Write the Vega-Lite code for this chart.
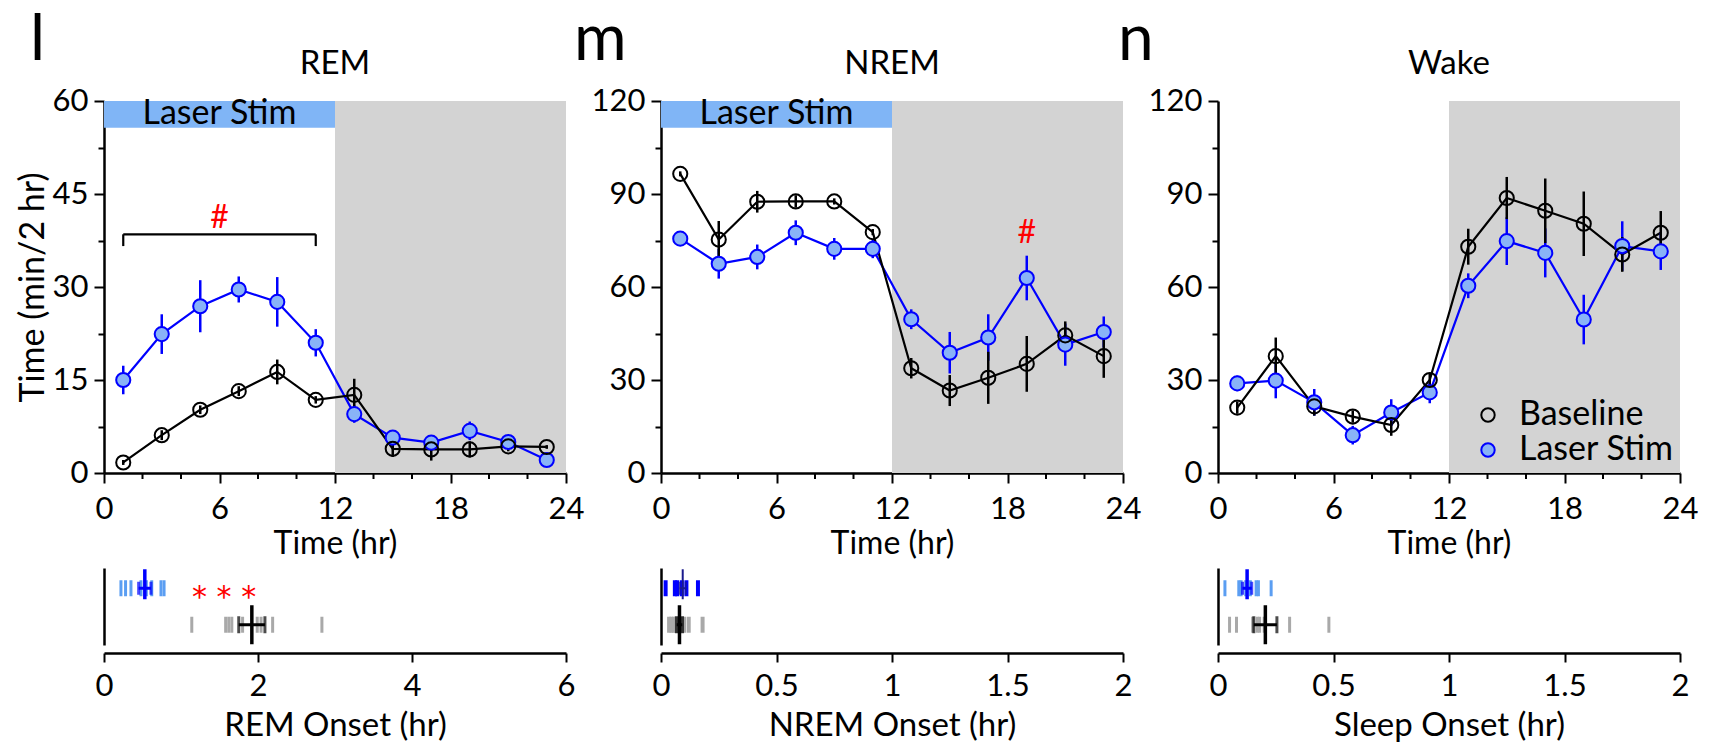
{
 "$schema": "https://vega.github.io/schema/vega-lite/v6.json",
 "background": "white",
 "padding": {"left": 16, "top": 9, "right": 5, "bottom": 5},
 "config": {
  "font": "Lato",
  "view": {"stroke": null},
  "axis": {"domainColor": "black", "domainWidth": 2.5, "tickColor": "black", "tickWidth": 2, "labelColor": "black", "titleColor": "black", "labelFont": "Lato", "titleFont": "Lato", "labelFontSize": 31, "titleFontSize": 32, "titleFontWeight": "normal", "grid": false, "labelPadding": 6, "labelFlush": false},
  "legend": {"labelFont": "Lato", "labelFontSize": 34, "labelColor": "black", "symbolSize": 180, "symbolStrokeWidth": 2, "rowPadding": 1, "labelOffset": 14, "padding": 0}
 },
 "datasets": {
  "series": [
   {"state": "REM", "group": "Laser Stim", "hr": 1, "mean": 15.0, "err": 2.3},
   {"state": "REM", "group": "Laser Stim", "hr": 3, "mean": 22.4, "err": 3.2},
   {"state": "REM", "group": "Laser Stim", "hr": 5, "mean": 26.9, "err": 4.2},
   {"state": "REM", "group": "Laser Stim", "hr": 7, "mean": 29.6, "err": 2.1},
   {"state": "REM", "group": "Laser Stim", "hr": 9, "mean": 27.6, "err": 4.0},
   {"state": "REM", "group": "Laser Stim", "hr": 11, "mean": 21.0, "err": 2.2},
   {"state": "REM", "group": "Laser Stim", "hr": 13, "mean": 9.5, "err": 1.4},
   {"state": "REM", "group": "Laser Stim", "hr": 15, "mean": 5.7, "err": 0.8},
   {"state": "REM", "group": "Laser Stim", "hr": 17, "mean": 4.9, "err": 1.0},
   {"state": "REM", "group": "Laser Stim", "hr": 19, "mean": 6.8, "err": 1.5},
   {"state": "REM", "group": "Laser Stim", "hr": 21, "mean": 5.0, "err": 0.7},
   {"state": "REM", "group": "Laser Stim", "hr": 23, "mean": 2.1, "err": 0.5},
   {"state": "REM", "group": "Baseline", "hr": 1, "mean": 1.7, "err": 0.4},
   {"state": "REM", "group": "Baseline", "hr": 3, "mean": 6.1, "err": 0.8},
   {"state": "REM", "group": "Baseline", "hr": 5, "mean": 10.2, "err": 0.7},
   {"state": "REM", "group": "Baseline", "hr": 7, "mean": 13.2, "err": 0.8},
   {"state": "REM", "group": "Baseline", "hr": 9, "mean": 16.3, "err": 2.0},
   {"state": "REM", "group": "Baseline", "hr": 11, "mean": 11.8, "err": 0.6},
   {"state": "REM", "group": "Baseline", "hr": 13, "mean": 12.6, "err": 2.6},
   {"state": "REM", "group": "Baseline", "hr": 15, "mean": 3.9, "err": 1.3},
   {"state": "REM", "group": "Baseline", "hr": 17, "mean": 3.8, "err": 1.8},
   {"state": "REM", "group": "Baseline", "hr": 19, "mean": 3.8, "err": 1.3},
   {"state": "REM", "group": "Baseline", "hr": 21, "mean": 4.3, "err": 0.8},
   {"state": "REM", "group": "Baseline", "hr": 23, "mean": 4.2, "err": 0.3},
   {"state": "NREM", "group": "Laser Stim", "hr": 1, "mean": 75.6, "err": 1.5},
   {"state": "NREM", "group": "Laser Stim", "hr": 3, "mean": 67.5, "err": 4.8},
   {"state": "NREM", "group": "Laser Stim", "hr": 5, "mean": 69.7, "err": 4.0},
   {"state": "NREM", "group": "Laser Stim", "hr": 7, "mean": 77.5, "err": 4.0},
   {"state": "NREM", "group": "Laser Stim", "hr": 9, "mean": 72.3, "err": 3.5},
   {"state": "NREM", "group": "Laser Stim", "hr": 11, "mean": 72.3, "err": 3.0},
   {"state": "NREM", "group": "Laser Stim", "hr": 13, "mean": 49.6, "err": 3.2},
   {"state": "NREM", "group": "Laser Stim", "hr": 15, "mean": 38.8, "err": 6.7},
   {"state": "NREM", "group": "Laser Stim", "hr": 17, "mean": 43.7, "err": 7.5},
   {"state": "NREM", "group": "Laser Stim", "hr": 19, "mean": 62.9, "err": 7.2},
   {"state": "NREM", "group": "Laser Stim", "hr": 21, "mean": 41.4, "err": 6.8},
   {"state": "NREM", "group": "Laser Stim", "hr": 23, "mean": 45.5, "err": 5.0},
   {"state": "NREM", "group": "Baseline", "hr": 1, "mean": 96.5, "err": 0.8},
   {"state": "NREM", "group": "Baseline", "hr": 3, "mean": 75.3, "err": 6.0},
   {"state": "NREM", "group": "Baseline", "hr": 5, "mean": 87.5, "err": 3.5},
   {"state": "NREM", "group": "Baseline", "hr": 7, "mean": 87.6, "err": 2.0},
   {"state": "NREM", "group": "Baseline", "hr": 9, "mean": 87.6, "err": 1.0},
   {"state": "NREM", "group": "Baseline", "hr": 11, "mean": 77.7, "err": 1.0},
   {"state": "NREM", "group": "Baseline", "hr": 13, "mean": 33.8, "err": 3.3},
   {"state": "NREM", "group": "Baseline", "hr": 15, "mean": 26.6, "err": 5.0},
   {"state": "NREM", "group": "Baseline", "hr": 17, "mean": 30.7, "err": 8.4},
   {"state": "NREM", "group": "Baseline", "hr": 19, "mean": 35.2, "err": 9.0},
   {"state": "NREM", "group": "Baseline", "hr": 21, "mean": 44.4, "err": 4.5},
   {"state": "NREM", "group": "Baseline", "hr": 23, "mean": 37.7, "err": 7.0},
   {"state": "Wake", "group": "Laser Stim", "hr": 1, "mean": 28.9, "err": 2.5},
   {"state": "Wake", "group": "Laser Stim", "hr": 3, "mean": 29.8, "err": 5.7},
   {"state": "Wake", "group": "Laser Stim", "hr": 5, "mean": 22.8, "err": 4.3},
   {"state": "Wake", "group": "Laser Stim", "hr": 7, "mean": 12.2, "err": 3.0},
   {"state": "Wake", "group": "Laser Stim", "hr": 9, "mean": 19.5, "err": 4.3},
   {"state": "Wake", "group": "Laser Stim", "hr": 11, "mean": 26.0, "err": 3.5},
   {"state": "Wake", "group": "Laser Stim", "hr": 13, "mean": 60.4, "err": 4.0},
   {"state": "Wake", "group": "Laser Stim", "hr": 15, "mean": 74.8, "err": 7.7},
   {"state": "Wake", "group": "Laser Stim", "hr": 17, "mean": 71.0, "err": 7.9},
   {"state": "Wake", "group": "Laser Stim", "hr": 19, "mean": 49.5, "err": 8.0},
   {"state": "Wake", "group": "Laser Stim", "hr": 21, "mean": 73.2, "err": 8.0},
   {"state": "Wake", "group": "Laser Stim", "hr": 23, "mean": 71.5, "err": 6.0},
   {"state": "Wake", "group": "Baseline", "hr": 1, "mean": 21.1, "err": 2.0},
   {"state": "Wake", "group": "Baseline", "hr": 3, "mean": 37.7, "err": 6.0},
   {"state": "Wake", "group": "Baseline", "hr": 5, "mean": 21.5, "err": 3.0},
   {"state": "Wake", "group": "Baseline", "hr": 7, "mean": 18.2, "err": 2.0},
   {"state": "Wake", "group": "Baseline", "hr": 9, "mean": 15.5, "err": 3.5},
   {"state": "Wake", "group": "Baseline", "hr": 11, "mean": 30.0, "err": 2.0},
   {"state": "Wake", "group": "Baseline", "hr": 13, "mean": 73.0, "err": 5.8},
   {"state": "Wake", "group": "Baseline", "hr": 15, "mean": 88.7, "err": 6.8},
   {"state": "Wake", "group": "Baseline", "hr": 17, "mean": 84.6, "err": 10.4},
   {"state": "Wake", "group": "Baseline", "hr": 19, "mean": 80.4, "err": 10.4},
   {"state": "Wake", "group": "Baseline", "hr": 21, "mean": 70.5, "err": 5.6},
   {"state": "Wake", "group": "Baseline", "hr": 23, "mean": 77.5, "err": 7.0}
  ],
  "shade": [{"period": "dark", "start": 12, "end": 24}],
  "stim": [{"label": "Laser Stim", "start": 0, "end": 12}],
  "bracket": [{"from": 1, "to": 11}],
  "minor_hr": [{"hr": 2}, {"hr": 4}, {"hr": 8}, {"hr": 10}, {"hr": 14}, {"hr": 16}, {"hr": 20}, {"hr": 22}],
  "heads": [{"panel": "REM", "letter": "l", "name": "REM"}, {"panel": "NREM", "letter": "m", "name": "NREM"}, {"panel": "Wake", "letter": "n", "name": "Wake"}],
  "sig": [{"label": "#"}],
  "stars": [{"label": "* * *"}],
  "onset": [
   {"state": "REM", "group": "Laser Stim", "onset": 0.22},
   {"state": "REM", "group": "Laser Stim", "onset": 0.28},
   {"state": "REM", "group": "Laser Stim", "onset": 0.35},
   {"state": "REM", "group": "Laser Stim", "onset": 0.48},
   {"state": "REM", "group": "Laser Stim", "onset": 0.55},
   {"state": "REM", "group": "Laser Stim", "onset": 0.62},
   {"state": "REM", "group": "Laser Stim", "onset": 0.74},
   {"state": "REM", "group": "Laser Stim", "onset": 0.78},
   {"state": "REM", "group": "Baseline", "onset": 1.14},
   {"state": "REM", "group": "Baseline", "onset": 1.58},
   {"state": "REM", "group": "Baseline", "onset": 1.62},
   {"state": "REM", "group": "Baseline", "onset": 1.66},
   {"state": "REM", "group": "Baseline", "onset": 1.80},
   {"state": "REM", "group": "Baseline", "onset": 1.99},
   {"state": "REM", "group": "Baseline", "onset": 2.04},
   {"state": "REM", "group": "Baseline", "onset": 2.19},
   {"state": "REM", "group": "Baseline", "onset": 2.83},
   {"state": "NREM", "group": "Laser Stim", "onset": 0.02},
   {"state": "NREM", "group": "Laser Stim", "onset": 0.06},
   {"state": "NREM", "group": "Laser Stim", "onset": 0.07},
   {"state": "NREM", "group": "Laser Stim", "onset": 0.09},
   {"state": "NREM", "group": "Laser Stim", "onset": 0.11},
   {"state": "NREM", "group": "Laser Stim", "onset": 0.16},
   {"state": "NREM", "group": "Baseline", "onset": 0.035},
   {"state": "NREM", "group": "Baseline", "onset": 0.045},
   {"state": "NREM", "group": "Baseline", "onset": 0.055},
   {"state": "NREM", "group": "Baseline", "onset": 0.065},
   {"state": "NREM", "group": "Baseline", "onset": 0.075},
   {"state": "NREM", "group": "Baseline", "onset": 0.09},
   {"state": "NREM", "group": "Baseline", "onset": 0.10},
   {"state": "NREM", "group": "Baseline", "onset": 0.12},
   {"state": "NREM", "group": "Baseline", "onset": 0.18},
   {"state": "Sleep", "group": "Laser Stim", "onset": 0.03},
   {"state": "Sleep", "group": "Laser Stim", "onset": 0.09},
   {"state": "Sleep", "group": "Laser Stim", "onset": 0.10},
   {"state": "Sleep", "group": "Laser Stim", "onset": 0.12},
   {"state": "Sleep", "group": "Laser Stim", "onset": 0.14},
   {"state": "Sleep", "group": "Laser Stim", "onset": 0.165},
   {"state": "Sleep", "group": "Laser Stim", "onset": 0.175},
   {"state": "Sleep", "group": "Laser Stim", "onset": 0.23},
   {"state": "Sleep", "group": "Baseline", "onset": 0.05},
   {"state": "Sleep", "group": "Baseline", "onset": 0.08},
   {"state": "Sleep", "group": "Baseline", "onset": 0.15},
   {"state": "Sleep", "group": "Baseline", "onset": 0.17},
   {"state": "Sleep", "group": "Baseline", "onset": 0.18},
   {"state": "Sleep", "group": "Baseline", "onset": 0.20},
   {"state": "Sleep", "group": "Baseline", "onset": 0.31},
   {"state": "Sleep", "group": "Baseline", "onset": 0.48}
  ],
  "onset_stat": [
   {"state": "REM", "group": "Laser Stim", "mean": 0.53, "sem": 0.08},
   {"state": "REM", "group": "Baseline", "mean": 1.92, "sem": 0.17},
   {"state": "NREM", "group": "Laser Stim", "mean": 0.094, "sem": 0.013},
   {"state": "NREM", "group": "Baseline", "mean": 0.08, "sem": 0.012},
   {"state": "Sleep", "group": "Laser Stim", "mean": 0.126, "sem": 0.02},
   {"state": "Sleep", "group": "Baseline", "mean": 0.205, "sem": 0.05}
  ]
 },
 "columns": 3,
 "spacing": {"row": 95, "column": 95},
 "bounds": "flush",
 "resolve": {"scale": {"fill": "independent", "stroke": "independent"}, "legend": {"fill": "independent", "stroke": "independent"}},
 "concat": [
  {
   "width": 462, "height": 372,
   "layer": [
    {"data": {"name": "shade"}, "mark": {"type": "rect", "color": "#d3d3d3"},
     "encoding": {
      "x": {"field": "start", "type": "quantitative", "title": "Time (hr)", "scale": {"domain": [0, 24], "nice": false}, "axis": {"labelOverlap": false, "labelPadding": 11, "titlePadding": 4, "values": [0, 6, 12, 18, 24], "tickSize": 10}},
      "x2": {"field": "end"},
      "y": {"datum": 0, "type": "quantitative", "title": "Time (min/2 hr)", "scale": {"domain": [0, 60], "nice": false}, "axis": {"labelOverlap": false, "titleFontSize": 34, "titlePadding": 2, "values": [0,7.5,15,22.5,30,37.5,45,52.5,60], "labelExpr": "datum.value % 15 === 0 ? datum.label : ''", "tickSize": {"condition": {"test": "datum.value % 15 === 0", "value": 10}, "value": 6}}},
      "y2": {"datum": 60}
     }},
    {"data": {"name": "minor_hr"}, "mark": {"type": "tick", "orient": "vertical", "color": "black", "size": 6, "thickness": 2, "yOffset": 3, "opacity": 1},
     "encoding": {"x": {"field": "hr", "type": "quantitative", "title": "Time (hr)"}, "y": {"datum": 0, "type": "quantitative", "title": "Time (min/2 hr)"}}},
    {"data": {"name": "stim"}, "mark": {"type": "rect", "color": "#80b5f6"},
     "encoding": {"x": {"field": "start", "type": "quantitative", "title": "Time (hr)"}, "x2": {"field": "end"}, "y": {"datum": 55.7, "type": "quantitative", "title": "Time (min/2 hr)"}, "y2": {"datum": 60}}},
    {"data": {"name": "stim"}, "mark": {"type": "text", "fontSize": 34, "color": "black", "baseline": "middle"},
     "encoding": {"x": {"datum": 6, "type": "quantitative", "title": "Time (hr)"}, "y": {"datum": 57.85, "type": "quantitative", "title": "Time (min/2 hr)"}, "text": {"field": "label"}}},
    {"data": {"name": "heads"}, "transform": [{"filter": "datum.panel === 'REM'"}], "mark": {"type": "text", "fontSize": 64, "color": "black", "align": "left", "baseline": "alphabetic"},
     "encoding": {"x": {"datum": -3.84, "type": "quantitative", "title": "Time (hr)"}, "y": {"datum": 66.6, "type": "quantitative", "title": "Time (min/2 hr)"}, "text": {"field": "letter"}}},
    {"data": {"name": "heads"}, "transform": [{"filter": "datum.panel === 'REM'"}], "mark": {"type": "text", "fontSize": 33, "color": "black", "align": "center", "baseline": "alphabetic"},
     "encoding": {"x": {"datum": 12, "type": "quantitative", "title": "Time (hr)"}, "y": {"datum": 64.4, "type": "quantitative", "title": "Time (min/2 hr)"}, "text": {"field": "name"}}},
    {"data": {"name": "series"}, "transform": [{"filter": "datum.state === 'REM' && datum.group === 'Laser Stim'"}], "mark": {"type": "line", "color": "#0000ff", "strokeWidth": 2.2},
     "encoding": {"x": {"field": "hr", "type": "quantitative", "title": "Time (hr)"}, "y": {"field": "mean", "type": "quantitative", "title": "Time (min/2 hr)"}}},
    {"data": {"name": "series"}, "transform": [{"filter": "datum.state === 'REM' && datum.group === 'Baseline'"}], "mark": {"type": "line", "color": "black", "strokeWidth": 2.2},
     "encoding": {"x": {"field": "hr", "type": "quantitative", "title": "Time (hr)"}, "y": {"field": "mean", "type": "quantitative", "title": "Time (min/2 hr)"}}},
    {"data": {"name": "series"}, "transform": [{"filter": "datum.state === 'REM' && datum.group === 'Laser Stim'"}], "mark": {"type": "errorbar", "color": "#0000ff", "thickness": 2.5},
     "encoding": {"x": {"field": "hr", "type": "quantitative", "title": "Time (hr)"}, "y": {"field": "mean", "type": "quantitative", "title": "Time (min/2 hr)"}, "yError": {"field": "err"}}},
    {"data": {"name": "series"}, "transform": [{"filter": "datum.state === 'REM' && datum.group === 'Baseline'"}], "mark": {"type": "errorbar", "color": "black", "thickness": 2.5},
     "encoding": {"x": {"field": "hr", "type": "quantitative", "title": "Time (hr)"}, "y": {"field": "mean", "type": "quantitative", "title": "Time (min/2 hr)"}, "yError": {"field": "err"}}},
    {"data": {"name": "series"}, "transform": [{"filter": "datum.state === 'REM'"}], "mark": {"type": "circle", "size": 200, "strokeWidth": 2, "opacity": 1},
     "encoding": {"x": {"field": "hr", "type": "quantitative", "title": "Time (hr)"}, "y": {"field": "mean", "type": "quantitative", "title": "Time (min/2 hr)"},
      "fill": {"field": "group", "type": "nominal", "scale": {"domain": ["Baseline", "Laser Stim"], "range": ["transparent", "#89b3f7"]}, "legend": null},
      "stroke": {"field": "group", "type": "nominal", "scale": {"domain": ["Baseline", "Laser Stim"], "range": ["black", "#0000ff"]}, "legend": null}}},
    {"data": {"name": "bracket"}, "mark": {"type": "rule", "color": "black", "strokeWidth": 2.2},
     "encoding": {"x": {"field": "from", "type": "quantitative", "title": "Time (hr)"}, "x2": {"field": "to"}, "y": {"datum": 38.5, "type": "quantitative", "title": "Time (min/2 hr)"}}},
    {"data": {"name": "bracket"}, "mark": {"type": "rule", "color": "black", "strokeWidth": 2.2},
     "encoding": {"x": {"field": "from", "type": "quantitative", "title": "Time (hr)"}, "y": {"datum": 38.5, "type": "quantitative", "title": "Time (min/2 hr)"}, "y2": {"datum": 36.6}}},
    {"data": {"name": "bracket"}, "mark": {"type": "rule", "color": "black", "strokeWidth": 2.2},
     "encoding": {"x": {"field": "to", "type": "quantitative", "title": "Time (hr)"}, "y": {"datum": 38.5, "type": "quantitative", "title": "Time (min/2 hr)"}, "y2": {"datum": 36.6}}},
    {"data": {"name": "sig"}, "mark": {"type": "text", "fontSize": 32, "color": "#ff0000", "baseline": "middle"},
     "encoding": {"x": {"datum": 6, "type": "quantitative", "title": "Time (hr)"}, "y": {"datum": 41.2, "type": "quantitative", "title": "Time (min/2 hr)"}, "text": {"field": "label"}}}
   ]
  },
  {
   "width": 462, "height": 372,
   "layer": [
    {"data": {"name": "shade"}, "mark": {"type": "rect", "color": "#d3d3d3"},
     "encoding": {
      "x": {"field": "start", "type": "quantitative", "title": "Time (hr)", "scale": {"domain": [0, 24], "nice": false}, "axis": {"labelOverlap": false, "labelPadding": 11, "titlePadding": 4, "values": [0, 6, 12, 18, 24], "tickSize": 10}},
      "x2": {"field": "end"},
      "y": {"datum": 0, "type": "quantitative", "title": null, "scale": {"domain": [0, 120], "nice": false}, "axis": {"labelOverlap": false, "values": [0,15,30,45,60,75,90,105,120], "labelExpr": "datum.value % 30 === 0 ? datum.label : ''", "tickSize": {"condition": {"test": "datum.value % 30 === 0", "value": 10}, "value": 6}}},
      "y2": {"datum": 120}
     }},
    {"data": {"name": "minor_hr"}, "mark": {"type": "tick", "orient": "vertical", "color": "black", "size": 6, "thickness": 2, "yOffset": 3, "opacity": 1},
     "encoding": {"x": {"field": "hr", "type": "quantitative", "title": "Time (hr)"}, "y": {"datum": 0, "type": "quantitative", "title": null}}},
    {"data": {"name": "stim"}, "mark": {"type": "rect", "color": "#80b5f6"},
     "encoding": {"x": {"field": "start", "type": "quantitative", "title": "Time (hr)"}, "x2": {"field": "end"}, "y": {"datum": 111.4, "type": "quantitative", "title": null}, "y2": {"datum": 120}}},
    {"data": {"name": "stim"}, "mark": {"type": "text", "fontSize": 34, "color": "black", "baseline": "middle"},
     "encoding": {"x": {"datum": 6, "type": "quantitative", "title": "Time (hr)"}, "y": {"datum": 115.7, "type": "quantitative", "title": null}, "text": {"field": "label"}}},
    {"data": {"name": "heads"}, "transform": [{"filter": "datum.panel === 'NREM'"}], "mark": {"type": "text", "fontSize": 64, "color": "black", "align": "left", "baseline": "alphabetic"},
     "encoding": {"x": {"datum": -4.52, "type": "quantitative", "title": "Time (hr)"}, "y": {"datum": 133.2, "type": "quantitative", "title": null}, "text": {"field": "letter"}}},
    {"data": {"name": "heads"}, "transform": [{"filter": "datum.panel === 'NREM'"}], "mark": {"type": "text", "fontSize": 33, "color": "black", "align": "center", "baseline": "alphabetic"},
     "encoding": {"x": {"datum": 12, "type": "quantitative", "title": "Time (hr)"}, "y": {"datum": 128.8, "type": "quantitative", "title": null}, "text": {"field": "name"}}},
    {"data": {"name": "series"}, "transform": [{"filter": "datum.state === 'NREM' && datum.group === 'Laser Stim'"}], "mark": {"type": "line", "color": "#0000ff", "strokeWidth": 2.2},
     "encoding": {"x": {"field": "hr", "type": "quantitative", "title": "Time (hr)"}, "y": {"field": "mean", "type": "quantitative", "title": null}}},
    {"data": {"name": "series"}, "transform": [{"filter": "datum.state === 'NREM' && datum.group === 'Baseline'"}], "mark": {"type": "line", "color": "black", "strokeWidth": 2.2},
     "encoding": {"x": {"field": "hr", "type": "quantitative", "title": "Time (hr)"}, "y": {"field": "mean", "type": "quantitative", "title": null}}},
    {"data": {"name": "series"}, "transform": [{"filter": "datum.state === 'NREM' && datum.group === 'Laser Stim'"}], "mark": {"type": "errorbar", "color": "#0000ff", "thickness": 2.5},
     "encoding": {"x": {"field": "hr", "type": "quantitative", "title": "Time (hr)"}, "y": {"field": "mean", "type": "quantitative", "title": null}, "yError": {"field": "err"}}},
    {"data": {"name": "series"}, "transform": [{"filter": "datum.state === 'NREM' && datum.group === 'Baseline'"}], "mark": {"type": "errorbar", "color": "black", "thickness": 2.5},
     "encoding": {"x": {"field": "hr", "type": "quantitative", "title": "Time (hr)"}, "y": {"field": "mean", "type": "quantitative", "title": null}, "yError": {"field": "err"}}},
    {"data": {"name": "series"}, "transform": [{"filter": "datum.state === 'NREM'"}], "mark": {"type": "circle", "size": 200, "strokeWidth": 2, "opacity": 1},
     "encoding": {"x": {"field": "hr", "type": "quantitative", "title": "Time (hr)"}, "y": {"field": "mean", "type": "quantitative", "title": null},
      "fill": {"field": "group", "type": "nominal", "scale": {"domain": ["Baseline", "Laser Stim"], "range": ["transparent", "#89b3f7"]}, "legend": null},
      "stroke": {"field": "group", "type": "nominal", "scale": {"domain": ["Baseline", "Laser Stim"], "range": ["black", "#0000ff"]}, "legend": null}}},
    {"data": {"name": "sig"}, "mark": {"type": "text", "fontSize": 32, "color": "#ff0000", "baseline": "middle"},
     "encoding": {"x": {"datum": 19, "type": "quantitative", "title": "Time (hr)"}, "y": {"datum": 77.5, "type": "quantitative", "title": null}, "text": {"field": "label"}}}
   ]
  },
  {
   "width": 462, "height": 372,
   "layer": [
    {"data": {"name": "shade"}, "mark": {"type": "rect", "color": "#d3d3d3"},
     "encoding": {
      "x": {"field": "start", "type": "quantitative", "title": "Time (hr)", "scale": {"domain": [0, 24], "nice": false}, "axis": {"labelOverlap": false, "labelPadding": 11, "titlePadding": 4, "values": [0, 6, 12, 18, 24], "tickSize": 10}},
      "x2": {"field": "end"},
      "y": {"datum": 0, "type": "quantitative", "title": null, "scale": {"domain": [0, 120], "nice": false}, "axis": {"labelOverlap": false, "values": [0,15,30,45,60,75,90,105,120], "labelExpr": "datum.value % 30 === 0 ? datum.label : ''", "tickSize": {"condition": {"test": "datum.value % 30 === 0", "value": 10}, "value": 6}}},
      "y2": {"datum": 120}
     }},
    {"data": {"name": "minor_hr"}, "mark": {"type": "tick", "orient": "vertical", "color": "black", "size": 6, "thickness": 2, "yOffset": 3, "opacity": 1},
     "encoding": {"x": {"field": "hr", "type": "quantitative", "title": "Time (hr)"}, "y": {"datum": 0, "type": "quantitative", "title": null}}},
    {"data": {"name": "heads"}, "transform": [{"filter": "datum.panel === 'Wake'"}], "mark": {"type": "text", "fontSize": 64, "color": "black", "align": "left", "baseline": "alphabetic"},
     "encoding": {"x": {"datum": -5.19, "type": "quantitative", "title": "Time (hr)"}, "y": {"datum": 133.2, "type": "quantitative", "title": null}, "text": {"field": "letter"}}},
    {"data": {"name": "heads"}, "transform": [{"filter": "datum.panel === 'Wake'"}], "mark": {"type": "text", "fontSize": 33, "color": "black", "align": "center", "baseline": "alphabetic"},
     "encoding": {"x": {"datum": 12, "type": "quantitative", "title": "Time (hr)"}, "y": {"datum": 128.8, "type": "quantitative", "title": null}, "text": {"field": "name"}}},
    {"data": {"name": "series"}, "transform": [{"filter": "datum.state === 'Wake' && datum.group === 'Laser Stim'"}], "mark": {"type": "line", "color": "#0000ff", "strokeWidth": 2.2},
     "encoding": {"x": {"field": "hr", "type": "quantitative", "title": "Time (hr)"}, "y": {"field": "mean", "type": "quantitative", "title": null}}},
    {"data": {"name": "series"}, "transform": [{"filter": "datum.state === 'Wake' && datum.group === 'Baseline'"}], "mark": {"type": "line", "color": "black", "strokeWidth": 2.2},
     "encoding": {"x": {"field": "hr", "type": "quantitative", "title": "Time (hr)"}, "y": {"field": "mean", "type": "quantitative", "title": null}}},
    {"data": {"name": "series"}, "transform": [{"filter": "datum.state === 'Wake' && datum.group === 'Laser Stim'"}], "mark": {"type": "errorbar", "color": "#0000ff", "thickness": 2.5},
     "encoding": {"x": {"field": "hr", "type": "quantitative", "title": "Time (hr)"}, "y": {"field": "mean", "type": "quantitative", "title": null}, "yError": {"field": "err"}}},
    {"data": {"name": "series"}, "transform": [{"filter": "datum.state === 'Wake' && datum.group === 'Baseline'"}], "mark": {"type": "errorbar", "color": "black", "thickness": 2.5},
     "encoding": {"x": {"field": "hr", "type": "quantitative", "title": "Time (hr)"}, "y": {"field": "mean", "type": "quantitative", "title": null}, "yError": {"field": "err"}}},
    {"data": {"name": "series"}, "transform": [{"filter": "datum.state === 'Wake'"}], "mark": {"type": "circle", "size": 200, "strokeWidth": 2, "opacity": 1},
     "encoding": {"x": {"field": "hr", "type": "quantitative", "title": "Time (hr)"}, "y": {"field": "mean", "type": "quantitative", "title": null},
      "fill": {"field": "group", "type": "nominal", "scale": {"domain": ["Baseline", "Laser Stim"], "range": ["transparent", "#89b3f7"]}, "legend": {"title": null, "orient": "bottom-right", "offset": 6}},
      "stroke": {"field": "group", "type": "nominal", "scale": {"domain": ["Baseline", "Laser Stim"], "range": ["black", "#0000ff"]}, "legend": {"title": null, "orient": "bottom-right", "offset": 6}}}}
   ]
  },
  {
   "width": 462, "height": 77,
   "layer": [
    {"data": {"name": "onset"}, "transform": [{"filter": "datum.state === 'REM' && datum.group === 'Laser Stim'"}], "mark": {"type": "tick", "color": "#5b9ef2", "thickness": 3, "size": 16, "opacity": 1},
     "encoding": {
      "x": {"field": "onset", "type": "quantitative", "title": "REM Onset (hr)", "scale": {"domain": [0, 6], "nice": false}, "axis": {"values": [0, 2, 4, 6], "format": "~g", "offset": 8, "tickSize": 9, "labelPadding": 9, "titlePadding": 8, "titleFontSize": 33}},
      "y": {"field": "group", "type": "nominal", "title": null, "scale": {"type": "point", "domain": ["Laser Stim", "Baseline"], "padding": 0.555}, "axis": {"labels": false, "ticks": false}}}},
    {"data": {"name": "onset"}, "transform": [{"filter": "datum.state === 'REM' && datum.group === 'Baseline'"}], "mark": {"type": "tick", "color": "#a9a9a9", "thickness": 3, "size": 16, "opacity": 1},
     "encoding": {"x": {"field": "onset", "type": "quantitative", "title": "REM Onset (hr)"}, "y": {"field": "group", "type": "nominal", "title": null}}},
    {"data": {"name": "onset_stat"}, "transform": [{"filter": "datum.state === 'REM' && datum.group === 'Laser Stim'"}], "mark": {"type": "errorbar", "color": "#0000ff", "thickness": 3, "ticks": {"size": 13, "thickness": 3}},
     "encoding": {"x": {"field": "mean", "type": "quantitative", "title": "REM Onset (hr)"}, "xError": {"field": "sem"}, "y": {"field": "group", "type": "nominal", "title": null}}},
    {"data": {"name": "onset_stat"}, "transform": [{"filter": "datum.state === 'REM' && datum.group === 'Laser Stim'"}], "mark": {"type": "tick", "color": "#0000ff", "thickness": 3.5, "size": 30, "yOffset": -4, "opacity": 1},
     "encoding": {"x": {"field": "mean", "type": "quantitative", "title": "REM Onset (hr)"}, "y": {"field": "group", "type": "nominal", "title": null}}},
    {"data": {"name": "onset_stat"}, "transform": [{"filter": "datum.state === 'REM' && datum.group === 'Baseline'"}], "mark": {"type": "errorbar", "color": "black", "thickness": 3, "ticks": {"size": 17, "thickness": 3}},
     "encoding": {"x": {"field": "mean", "type": "quantitative", "title": "REM Onset (hr)"}, "xError": {"field": "sem"}, "y": {"field": "group", "type": "nominal", "title": null}}},
    {"data": {"name": "onset_stat"}, "transform": [{"filter": "datum.state === 'REM' && datum.group === 'Baseline'"}], "mark": {"type": "tick", "color": "black", "thickness": 3.5, "size": 39, "opacity": 1},
     "encoding": {"x": {"field": "mean", "type": "quantitative", "title": "REM Onset (hr)"}, "y": {"field": "group", "type": "nominal", "title": null}}},
    {"data": {"name": "stars"}, "mark": {"type": "text", "font": "DejaVu Sans", "fontSize": 30, "color": "#ff0000", "baseline": "alphabetic", "dy": 19},
     "encoding": {"x": {"datum": 1.56, "type": "quantitative", "title": "REM Onset (hr)"}, "y": {"datum": "Laser Stim", "type": "nominal", "title": null}, "text": {"field": "label"}}}
   ]
  },
  {
   "width": 462, "height": 77,
   "layer": [
    {"data": {"name": "onset"}, "transform": [{"filter": "datum.state === 'NREM' && datum.group === 'Laser Stim'"}], "mark": {"type": "tick", "color": "#0000ff", "thickness": 4, "size": 16, "opacity": 1},
     "encoding": {
      "x": {"field": "onset", "type": "quantitative", "title": "NREM Onset (hr)", "scale": {"domain": [0, 2], "nice": false}, "axis": {"values": [0, 0.5, 1, 1.5, 2], "format": "~g", "offset": 8, "tickSize": 9, "labelPadding": 9, "titlePadding": 8, "titleFontSize": 33}},
      "y": {"field": "group", "type": "nominal", "title": null, "scale": {"type": "point", "domain": ["Laser Stim", "Baseline"], "padding": 0.555}, "axis": {"labels": false, "ticks": false}}}},
    {"data": {"name": "onset"}, "transform": [{"filter": "datum.state === 'NREM' && datum.group === 'Baseline'"}], "mark": {"type": "tick", "color": "#a9a9a9", "thickness": 4, "size": 16, "opacity": 1},
     "encoding": {"x": {"field": "onset", "type": "quantitative", "title": "NREM Onset (hr)"}, "y": {"field": "group", "type": "nominal", "title": null}}},
    {"data": {"name": "onset_stat"}, "transform": [{"filter": "datum.state === 'NREM' && datum.group === 'Laser Stim'"}], "mark": {"type": "errorbar", "color": "#1a1a8c", "thickness": 2, "ticks": {"size": 13, "thickness": 2}},
     "encoding": {"x": {"field": "mean", "type": "quantitative", "title": "NREM Onset (hr)"}, "xError": {"field": "sem"}, "y": {"field": "group", "type": "nominal", "title": null}}},
    {"data": {"name": "onset_stat"}, "transform": [{"filter": "datum.state === 'NREM' && datum.group === 'Laser Stim'"}], "mark": {"type": "tick", "color": "#1a1a8c", "thickness": 2, "size": 30, "yOffset": -4, "opacity": 1},
     "encoding": {"x": {"field": "mean", "type": "quantitative", "title": "NREM Onset (hr)"}, "y": {"field": "group", "type": "nominal", "title": null}}},
    {"data": {"name": "onset_stat"}, "transform": [{"filter": "datum.state === 'NREM' && datum.group === 'Baseline'"}], "mark": {"type": "errorbar", "color": "black", "thickness": 3, "ticks": {"size": 17, "thickness": 3.5}},
     "encoding": {"x": {"field": "mean", "type": "quantitative", "title": "NREM Onset (hr)"}, "xError": {"field": "sem"}, "y": {"field": "group", "type": "nominal", "title": null}}},
    {"data": {"name": "onset_stat"}, "transform": [{"filter": "datum.state === 'NREM' && datum.group === 'Baseline'"}], "mark": {"type": "tick", "color": "black", "thickness": 3.5, "size": 39, "opacity": 1},
     "encoding": {"x": {"field": "mean", "type": "quantitative", "title": "NREM Onset (hr)"}, "y": {"field": "group", "type": "nominal", "title": null}}}
   ]
  },
  {
   "width": 462, "height": 77,
   "layer": [
    {"data": {"name": "onset"}, "transform": [{"filter": "datum.state === 'Sleep' && datum.group === 'Laser Stim'"}], "mark": {"type": "tick", "color": "#5b9ef2", "thickness": 3, "size": 16, "opacity": 1},
     "encoding": {
      "x": {"field": "onset", "type": "quantitative", "title": "Sleep Onset (hr)", "scale": {"domain": [0, 2], "nice": false}, "axis": {"values": [0, 0.5, 1, 1.5, 2], "format": "~g", "offset": 8, "tickSize": 9, "labelPadding": 9, "titlePadding": 8, "titleFontSize": 33}},
      "y": {"field": "group", "type": "nominal", "title": null, "scale": {"type": "point", "domain": ["Laser Stim", "Baseline"], "padding": 0.555}, "axis": {"labels": false, "ticks": false}}}},
    {"data": {"name": "onset"}, "transform": [{"filter": "datum.state === 'Sleep' && datum.group === 'Baseline'"}], "mark": {"type": "tick", "color": "#a9a9a9", "thickness": 3, "size": 16, "opacity": 1},
     "encoding": {"x": {"field": "onset", "type": "quantitative", "title": "Sleep Onset (hr)"}, "y": {"field": "group", "type": "nominal", "title": null}}},
    {"data": {"name": "onset_stat"}, "transform": [{"filter": "datum.state === 'Sleep' && datum.group === 'Laser Stim'"}], "mark": {"type": "errorbar", "color": "#0000ff", "thickness": 3, "ticks": {"size": 13, "thickness": 3}},
     "encoding": {"x": {"field": "mean", "type": "quantitative", "title": "Sleep Onset (hr)"}, "xError": {"field": "sem"}, "y": {"field": "group", "type": "nominal", "title": null}}},
    {"data": {"name": "onset_stat"}, "transform": [{"filter": "datum.state === 'Sleep' && datum.group === 'Laser Stim'"}], "mark": {"type": "tick", "color": "#0000ff", "thickness": 3.5, "size": 30, "yOffset": -4, "opacity": 1},
     "encoding": {"x": {"field": "mean", "type": "quantitative", "title": "Sleep Onset (hr)"}, "y": {"field": "group", "type": "nominal", "title": null}}},
    {"data": {"name": "onset_stat"}, "transform": [{"filter": "datum.state === 'Sleep' && datum.group === 'Baseline'"}], "mark": {"type": "errorbar", "color": "black", "thickness": 3, "ticks": {"size": 17, "thickness": 3}},
     "encoding": {"x": {"field": "mean", "type": "quantitative", "title": "Sleep Onset (hr)"}, "xError": {"field": "sem"}, "y": {"field": "group", "type": "nominal", "title": null}}},
    {"data": {"name": "onset_stat"}, "transform": [{"filter": "datum.state === 'Sleep' && datum.group === 'Baseline'"}], "mark": {"type": "tick", "color": "black", "thickness": 3.5, "size": 39, "opacity": 1},
     "encoding": {"x": {"field": "mean", "type": "quantitative", "title": "Sleep Onset (hr)"}, "y": {"field": "group", "type": "nominal", "title": null}}}
   ]
  }
 ]
}
